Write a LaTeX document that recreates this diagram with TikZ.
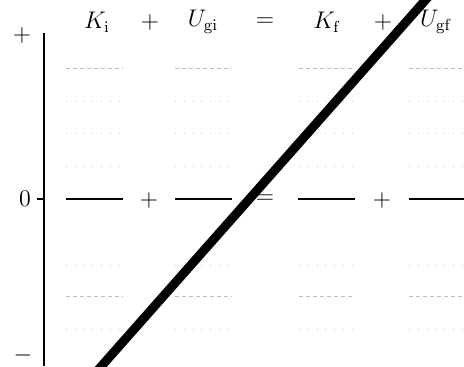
\documentclass[tikz,border=0pt]{standalone}
\usepackage{amsmath}
\usepackage{tikz}
\usetikzlibrary{positioning}

\tikzset{
  bar/.style={line width=0.7pt, black},
  gridrow/.style={gray!45, line width=0.4pt, loosely dotted},
  gridrowdense/.style={gray!50, line width=0.4pt, dash pattern=on 2pt off 1.5pt},
  heavy/.style={line width=4.5pt, black},
}

\begin{document}
\begin{tikzpicture}[x=0.5pt, y=-0.5pt, every node/.style={align=center, font=\large}]
  \useasboundingbox (0,0) rectangle (464,366);

  % ── Column heads ──────────────────────────────────────────────
  \node (ki)  at (97,22)  {$K_{\mathrm{i}}$};
  \node (p1)  at (150,22) {$+$};
  \node (ugi) at (203,22) {$U_{\mathrm{gi}}$};
  \node (eq)  at (265,22) {$=$};
  \node (kf)  at (327,22) {$K_{\mathrm{f}}$};
  \node (p2)  at (383,22) {$+$};
  \node (ugf) at (436,22) {$U_{\mathrm{gf}}$};

  % ── Vertical axis ─────────────────────────────────────────────
  \coordinate (axtop) at (44,33);
  \coordinate (axbot) at (44,366);
  \coordinate (tick)  at (37,199);
  \draw[line width=0.8pt] (axtop) -- (axbot);
  \draw[line width=0.6pt] (tick) -- (axtop |- tick);
  \node (lplus)  at (22,35)  {$+$};
  \node (lzero)  at (25,199) {$0$};
  \node (lminus) at (23,355) {$-$};

  % ── Faint level rows ──────────────────────────────────────────
  \foreach \xa/\xb in {66/123, 175/232, 299/355, 409/464} {
    \foreach \yy in {101,133,166,265,329}
      \draw[gridrow] (\xa,\yy) -- (\xb,\yy);
    \foreach \yy in {68,296}
      \draw[gridrowdense] (\xa,\yy) -- (\xb,\yy);
  }

  % ── Zero-level bars ───────────────────────────────────────────
  \foreach \xa/\xb/\nm in {66/123/a, 175/232/b, 298/355/c, 409/464/d} {
    \coordinate (bar\nm l) at (\xa,199);
    \coordinate (bar\nm r) at (\xb,199);
    \draw[bar] (bar\nm l) -- (bar\nm r);
  }
  \node (zp1) at (149,200) {$+$};
  \node (zeq) at (265,199) {$=$};
  \node (zp2) at (382,200) {$+$};

  % ── Heavy strike line ─────────────────────────────────────────
  \coordinate (slo) at (98,370);
  \coordinate (shi) at (429,-4);
  \draw[heavy] (slo) -- (shi);

\end{tikzpicture}
\end{document}
